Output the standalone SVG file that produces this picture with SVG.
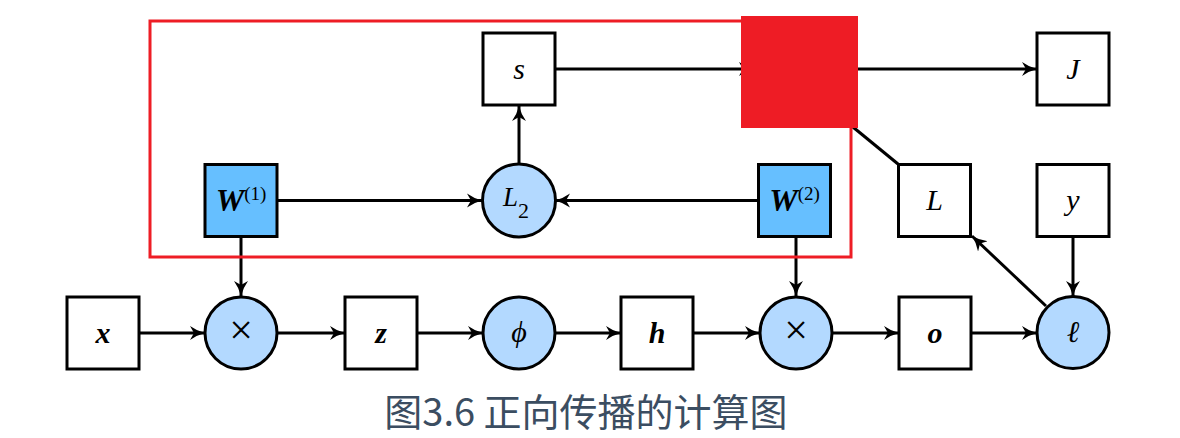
<svg xmlns="http://www.w3.org/2000/svg" width="1180" height="438" viewBox="0 0 1180 438">
<style>
.box{fill:#ffffff;stroke:#000;stroke-width:3}
.wbox{fill:#66bfff;stroke:#000;stroke-width:3}
.op{fill:#b3d9ff;stroke:#000;stroke-width:3}
.lbl{font-family:"Liberation Serif","DejaVu Serif",serif;font-style:italic;font-size:30px;fill:#000;text-anchor:middle}
.bold{font-weight:bold}
.up{font-style:normal}
.times{font-family:"Liberation Serif",serif;font-style:normal;font-size:42px;fill:#000;text-anchor:middle}
.conn line{stroke:#000;stroke-width:3;fill:none}
.cap{font-family:"Noto Sans CJK SC","Noto Sans",sans-serif;font-size:38px;fill:#3b4d61;text-anchor:middle}
</style>
<defs>
<marker id="arr" markerUnits="userSpaceOnUse" markerWidth="16" markerHeight="16" viewBox="0 -8 16 16" refX="15" refY="0" orient="auto">
<path d="M0,-7 Q7,-2 15,0 Q7,2 0,7 L4,0 z" fill="#000"/>
</marker>
</defs>
<rect width="1180" height="438" fill="#fff"/>

<g id="connectors" class="conn">
<line x1="555" y1="69" x2="754" y2="69" marker-end="url(#arr)"/>
<line x1="858" y1="69" x2="1037" y2="69" marker-end="url(#arr)"/>
<line x1="820" y1="100" x2="898" y2="164"/>
<line x1="519" y1="164" x2="519" y2="106" marker-end="url(#arr)"/>
<line x1="278" y1="200.5" x2="482" y2="200.5" marker-end="url(#arr)"/>
<line x1="758" y1="200.5" x2="555" y2="200.5" marker-end="url(#arr)"/>
<line x1="241" y1="237" x2="241" y2="296" marker-end="url(#arr)"/>
<line x1="796" y1="237" x2="796" y2="296" marker-end="url(#arr)"/>
<line x1="1073" y1="236" x2="1073" y2="296" marker-end="url(#arr)"/>
<line x1="1046" y1="306" x2="972" y2="236" marker-end="url(#arr)"/>
<line x1="139" y1="333" x2="205" y2="333" marker-end="url(#arr)"/>
<line x1="277" y1="333" x2="345" y2="333" marker-end="url(#arr)"/>
<line x1="417" y1="333" x2="483" y2="333" marker-end="url(#arr)"/>
<line x1="555" y1="333" x2="621" y2="333" marker-end="url(#arr)"/>
<line x1="693" y1="333" x2="760" y2="333" marker-end="url(#arr)"/>
<line x1="832" y1="333" x2="899" y2="333" marker-end="url(#arr)"/>
<line x1="971" y1="333" x2="1037" y2="333" marker-end="url(#arr)"/>
</g>

<g id="node-s"><rect class="box" x="483" y="33" width="72" height="72"/><text class="lbl" x="519" y="79">s</text></g>
<g id="node-J"><rect class="box" x="1037" y="33" width="72" height="72"/><text class="lbl" x="1073" y="79">J</text></g>
<g id="node-W1"><rect class="wbox" x="205" y="164.5" width="72" height="72"/><text class="lbl" x="241" y="211"><tspan class="bold" font-size="32">W</tspan><tspan class="up" font-size="19" dy="-11">(1)</tspan></text></g>
<g id="node-L2"><circle class="op" cx="519" cy="200.5" r="36.5"/><text class="lbl" x="516" y="206"><tspan font-size="27">L</tspan><tspan class="up" font-size="22" dy="12">2</tspan></text></g>
<g id="node-W2"><rect class="wbox" x="758.5" y="164.5" width="72" height="72"/><text class="lbl" x="794.5" y="211"><tspan class="bold" font-size="32">W</tspan><tspan class="up" font-size="19" dy="-11">(2)</tspan></text></g>
<g id="node-L"><rect class="box" x="898.5" y="164.5" width="72" height="72"/><text class="lbl" x="934.5" y="210">L</text></g>
<g id="node-y"><rect class="box" x="1037" y="164.5" width="72" height="72"/><text class="lbl" x="1073" y="210">y</text></g>

<g id="node-x"><rect class="box" x="67" y="297" width="72" height="72"/><text class="lbl bold" x="103" y="343">x</text></g>
<g id="node-mul1"><circle class="op" cx="241" cy="333" r="36"/><text class="times" x="241" y="344">×</text></g>
<g id="node-z"><rect class="box" x="345" y="297" width="72" height="72"/><text class="lbl bold" x="381" y="343">z</text></g>
<g id="node-phi"><circle class="op" cx="519" cy="333" r="36"/><text class="lbl" x="519" y="342">ϕ</text></g>
<g id="node-h"><rect class="box" x="621" y="297" width="72" height="72"/><text class="lbl bold" x="657" y="343">h</text></g>
<g id="node-mul2"><circle class="op" cx="796" cy="333" r="36"/><text class="times" x="796" y="344">×</text></g>
<g id="node-o"><rect class="box" x="899" y="297" width="72" height="72"/><text class="lbl bold" x="935" y="343">o</text></g>
<g id="node-ell"><circle class="op" cx="1073" cy="332.5" r="36"/><text class="lbl" x="1073" y="342">ℓ</text></g>

<rect x="150" y="21" width="701" height="236" fill="none" stroke="#ee1d25" stroke-width="3"/>
<rect x="741" y="16" width="117" height="112" fill="#ee1c25"/>

<text class="cap" x="586" y="426">图3.6 正向传播的计算图</text>
</svg>
